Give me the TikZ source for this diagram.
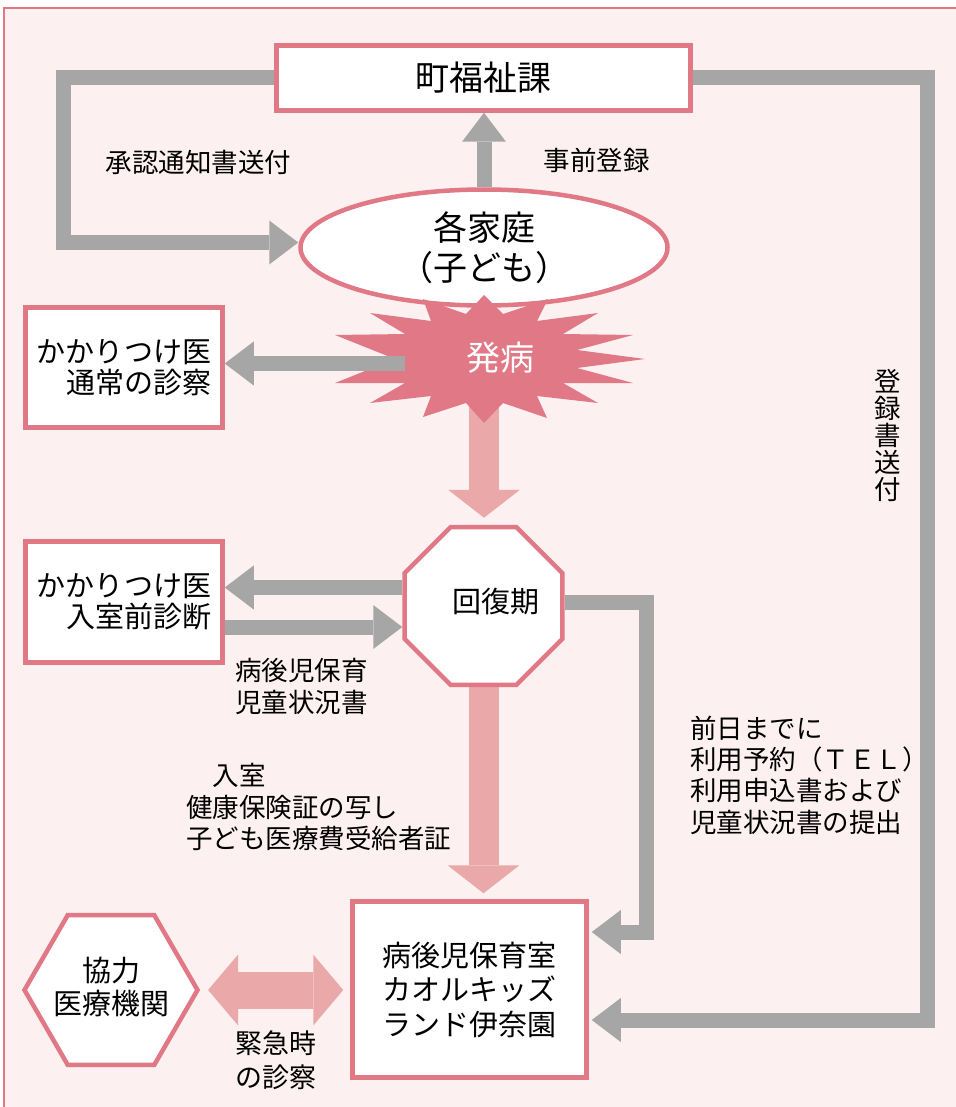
\documentclass[tikz,border=0pt]{standalone}
\usepackage{fontspec}
\setmainfont{Noto Sans CJK JP}
\usetikzlibrary{shapes.geometric,arrows.meta,backgrounds}
\definecolor{framepink}{RGB}{224,120,134}
\definecolor{bgpink}{RGB}{252,240,240}
\definecolor{arrowgray}{RGB}{166,166,166}
\definecolor{arrowpink}{RGB}{235,168,168}
\newcommand{\bigfnt}{\fontsize{34}{40}\selectfont}
\newcommand{\boxfnt}{\fontsize{29}{31}\selectfont}
\newcommand{\lblfnt}{\fontsize{26.5}{31.3}\selectfont}

\begin{document}
\begin{tikzpicture}[x=1pt,y=-1pt]
	\tikzstyle{every node}+=[inner sep=0pt]
	\tikzstyle{pinkbox}=[draw=framepink, fill=white, line width=4.5pt]
	\tikzstyle{grayarrow}=[draw=arrowgray, line width=15pt, -{Triangle[width=44pt,length=29pt,line width=0pt]}]
	\tikzstyle{pinkarrow}=[draw=arrowpink, line width=30pt, -{Triangle[width=72pt,length=28pt,line width=0pt]}]
	\tikzstyle{pinkboth}=[draw=arrowpink, line width=37pt, {Triangle[width=71pt,length=30pt,line width=0pt]}-{Triangle[width=71pt,length=30pt,line width=0pt]}]
	\tikzstyle{lbl}=[font=\lblfnt, align=left]
	\useasboundingbox (0,0) rectangle (955,1107);
	\node [pinkbox, minimum width=414pt, minimum height=65pt, font=\bigfnt] (fukushi) at (483.5,78) {町福祉課};
	\node [pinkbox, ellipse, minimum width=367pt, minimum height=116pt, font=\bigfnt, align=center] (katei) at (484,247.5) {各家庭\\（子ども）};
	\node [pinkbox, minimum width=197pt, minimum height=120pt, font=\boxfnt, align=right] (isha1) at (124,367.5) {かかりつけ医\\通常の診察};
	\node [pinkbox, minimum width=197pt, minimum height=121pt, font=\boxfnt, align=right] (isha2) at (124,602) {かかりつけ医\\入室前診断};
	\node [pinkbox, regular polygon, regular polygon sides=8, minimum size=171pt, label={[name=kaifukutxt, font=\boxfnt, xshift=12.5pt, yshift=4pt]center:回復期}] (kaifuku) at (483.5,606) {};
	\node [pinkbox, minimum width=234pt, minimum height=176pt, font=\fontsize{29}{34.5}\selectfont, align=center] (hoiku) at (469.5,989.5) {病後児保育室\\カオルキッズ\\ランド伊奈園};
	\node [pinkbox, regular polygon, regular polygon sides=6, minimum size=173pt] (kyoryoku) at (111,990) {};
	\node [font=\fontsize{29}{33}\selectfont, align=center] (kyoryokutxt) at (111,986.5) {協力\\医療機関};
	\coordinate (burst) at (484,359);
	\coordinate (burstleft) at (405,363.5);
	\coordinate (lcorner) at (63.5,242.5);
	\coordinate (rcorner) at (927.5,1020);
	\coordinate (kcorner) at (646.5,932);
	\begin{pgfonlayer}{background}
	\fill [bgpink] (4,8) rectangle (960,1112);
	\draw [framepink, line width=2pt] (4,1112) -- (4,8) -- (960,8);
	\draw [grayarrow] (fukushi.west) -| (lcorner) -- (katei.west |- lcorner);
	\draw [grayarrow] (katei.north) -- (katei.north |- fukushi.south);
	\draw [grayarrow, shorten >=3pt] (fukushi.east) -| (rcorner) -- (hoiku.east |- rcorner);
	\draw [grayarrow, shorten >=3pt] ([yshift=3.5pt]kaifuku.east) -| (kcorner) -- (hoiku.east |- kcorner);
	\draw [grayarrow] ([yshift=18.5pt]kaifuku.west) coordinate (k1) -- (isha2.east |- k1);
	\draw [grayarrow] ([yshift=-25pt]isha2.east) coordinate (i2) -- (kaifuku.west |- i2);
	\draw [pinkarrow, shorten >=7pt] (burst) -- (burst |- kaifuku.north);
	\draw [pinkarrow, shorten >=6pt] (kaifuku.south) -- (kaifuku.south |- hoiku.north);
	\draw [pinkboth, shorten <=8pt, shorten >=7pt] (kyoryoku.east) -- (hoiku.west |- kyoryoku.east);
	\end{pgfonlayer}
	\fill [framepink, shift={(burst)}] (0,-64) -- (19,-45) -- (64,-60) -- (53,-38) -- (114,-46) -- (79,-25) -- (149,-24) -- (93,-9) -- (161,0) -- (93,9) -- (149,24) -- (79,24) -- (114,44) -- (53,37) -- (63,59) -- (19,44) -- (0,64) -- (-18,44) -- (-61,58) -- (-53,37) -- (-114,44) -- (-79,24) -- (-149,24) -- (-89,0) -- (-149,-24) -- (-79,-25) -- (-114,-46) -- (-53,-38) -- (-61,-60) -- (-18,-45) -- cycle;
	\node [text=white, font=\bigfnt] (hatsubyo) at (500,358) {発病};
	\draw [grayarrow] (burstleft) -- (isha1.east |- burstleft);
	\node [lbl] (shonin) at (198.5,162) {承認通知書送付};
	\node [lbl] (jizen) at (596.5,160) {事前登録};
	\node [font=\fontsize{26.5}{27}\selectfont, align=center] (toroku) at (888,435) {登\\録\\書\\送\\付};
	\node [lbl, anchor=west, font=\fontsize{26.5}{32}\selectfont] (byogo) at (235,686) {病後児保育\\児童状況書};
	\node [lbl, anchor=west] (nyushitsu) at (186,807) {　入室\\健康保険証の写し\\子ども医療費受給者証};
	\node [lbl, anchor=west] (zenjitsu) at (690,775) {前日までに\\利用予約（ＴＥＬ）\\利用申込書および\\児童状況書の提出};
	\node [align=center, font=\fontsize{27}{34}\selectfont] (kinkyu) at (276,1060) {緊急時\\の診察};
\end{tikzpicture}
\end{document}
